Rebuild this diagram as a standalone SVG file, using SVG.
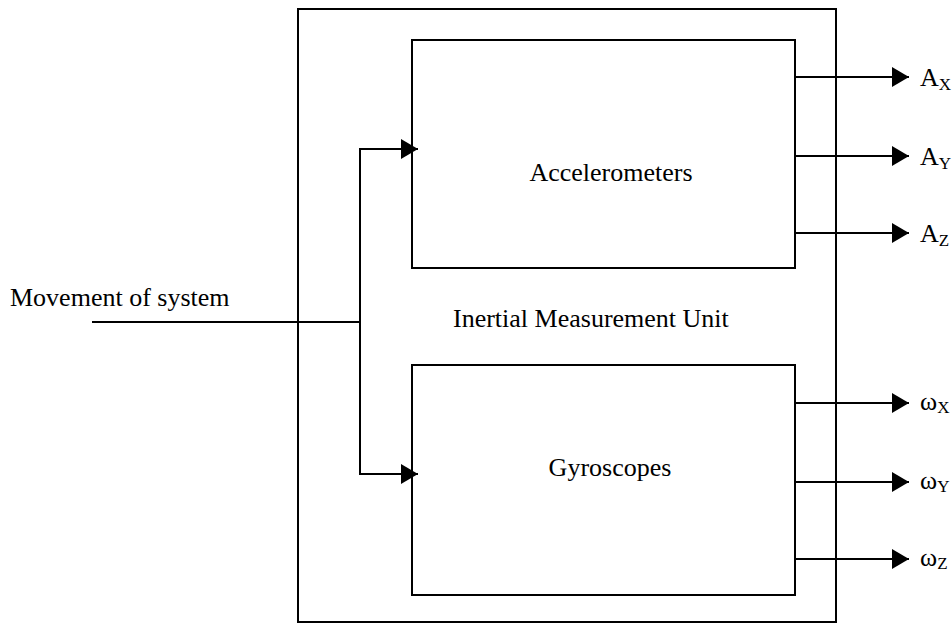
<svg xmlns="http://www.w3.org/2000/svg" width="952" height="624" viewBox="0 0 952 624">
  <style>
    .box { fill: none; stroke: #000; stroke-width: 2; }
    .wire { fill: none; stroke: #000; stroke-width: 2; }
    .lbl { font-family: "Liberation Serif", "Times New Roman", serif; font-size: 26px; fill: #000; }
    .sub { font-size: 17px; }
  </style>
  <defs>
    <marker id="arrow" markerUnits="userSpaceOnUse" markerWidth="17" markerHeight="20" refX="17" refY="10" orient="auto">
      <path d="M0,0 L17,10 L0,20 Z" fill="#000"/>
    </marker>
  </defs>

  <g id="imu">
    <rect class="box" x="298" y="9" width="538" height="613"/>
    <text class="lbl" x="453" y="327">Inertial Measurement Unit</text>
  </g>

  <g id="accelerometers">
    <rect class="box" x="412" y="40" width="383" height="228"/>
    <text class="lbl" x="611" y="181" text-anchor="middle">Accelerometers</text>
  </g>

  <g id="gyroscopes">
    <rect class="box" x="412" y="365" width="383" height="230"/>
    <text class="lbl" x="610" y="476" text-anchor="middle">Gyroscopes</text>
  </g>

  <g id="input">
    <text class="lbl" x="10" y="306">Movement of system</text>
  </g>

  <g id="connectors">
    <polyline class="wire" points="92,322 360,322"/>
    <polyline class="wire" points="360,322 360,149 418,149" marker-end="url(#arrow)"/>
    <polyline class="wire" points="360,322 360,474 418,474" marker-end="url(#arrow)"/>
    <line class="wire" x1="795" y1="77" x2="909" y2="77" marker-end="url(#arrow)"/>
    <line class="wire" x1="795" y1="156" x2="909" y2="156" marker-end="url(#arrow)"/>
    <line class="wire" x1="795" y1="233" x2="909" y2="233" marker-end="url(#arrow)"/>
    <line class="wire" x1="795" y1="403" x2="909" y2="403" marker-end="url(#arrow)"/>
    <line class="wire" x1="795" y1="482" x2="909" y2="482" marker-end="url(#arrow)"/>
    <line class="wire" x1="795" y1="559" x2="909" y2="559" marker-end="url(#arrow)"/>
  </g>

  <g id="outputs">
    <text class="lbl" x="920" y="86">A<tspan class="sub" dy="4">X</tspan></text>
    <text class="lbl" x="920" y="165">A<tspan class="sub" dy="4">Y</tspan></text>
    <text class="lbl" x="920" y="242">A<tspan class="sub" dy="4">Z</tspan></text>
    <text class="lbl" x="920" y="410">ω<tspan class="sub" dy="3">X</tspan></text>
    <text class="lbl" x="920" y="489">ω<tspan class="sub" dy="3">Y</tspan></text>
    <text class="lbl" x="920" y="566">ω<tspan class="sub" dy="3">Z</tspan></text>
  </g>
</svg>
